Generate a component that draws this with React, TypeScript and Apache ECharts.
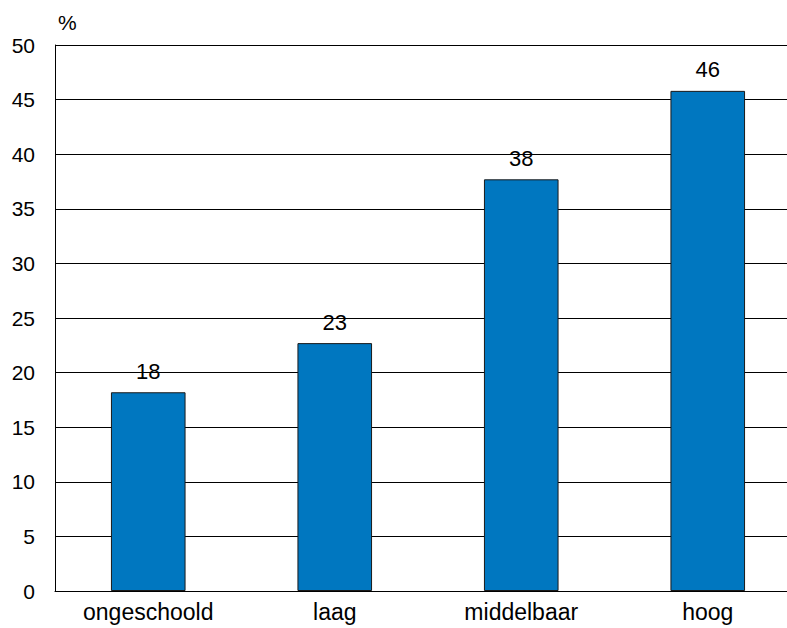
import React, { useEffect, useRef } from "react";
import * as echarts from "echarts";

const categories = ["ongeschoold", "laag", "middelbaar", "hoog"];
const values = [18.2, 22.7, 37.7, 45.8];
const yTicks = [0, 5, 10, 15, 20, 25, 30, 35, 40, 45, 50];

export default function App() {
  const ref = useRef<HTMLDivElement>(null);
  useEffect(() => {
    if (!ref.current) return;
    const chart = echarts.init(ref.current, null, { renderer: "svg" });
    const font = "Liberation Sans, Arial, sans-serif";
    chart.setOption({
      animation: false,
      backgroundColor: "#ffffff",
      grid: { left: 55, width: 746, top: 45, bottom: 37, outerBoundsMode: "none", containLabel: false },
      graphic: [
        {
          type: "text",
          left: 58,
          top: 12,
          style: { text: "%", fontSize: 21, fontFamily: font, fill: "#000" },
        },
      ],
      xAxis: {
        type: "category",
        data: categories,
        axisTick: { show: false },
        axisLine: { lineStyle: { color: "#000", width: 1 } },
        axisLabel: { color: "#000", fontSize: 23, fontFamily: font, margin: 9 },
      },
      yAxis: {
        type: "value",
        min: yTicks[0],
        max: yTicks[yTicks.length - 1],
        interval: 5,
        axisLine: { show: true, lineStyle: { color: "#000", width: 1 } },
        axisTick: { show: false },
        splitLine: { lineStyle: { color: "#000", width: 1 } },
        axisLabel: { color: "#000", fontSize: 21, fontFamily: font, margin: 20 },
      },
      series: [
        {
          type: "bar",
          data: values,
          barWidth: "40%",
          itemStyle: { color: "#0077C0", borderColor: "#1a1a1a", borderWidth: 1 },
          label: {
            show: true,
            position: "top",
            distance: 10,
            color: "#000",
            fontSize: 22,
            fontFamily: font,
            formatter: (p: any) => String(Math.round(p.value)),
          },
        },
      ],
    });
    return () => chart.dispose();
  }, []);
  return (
    <div
      ref={ref}
      style={{ position: "fixed", left: 0, top: 0, width: 787, height: 628 }}
    />
  );
}
